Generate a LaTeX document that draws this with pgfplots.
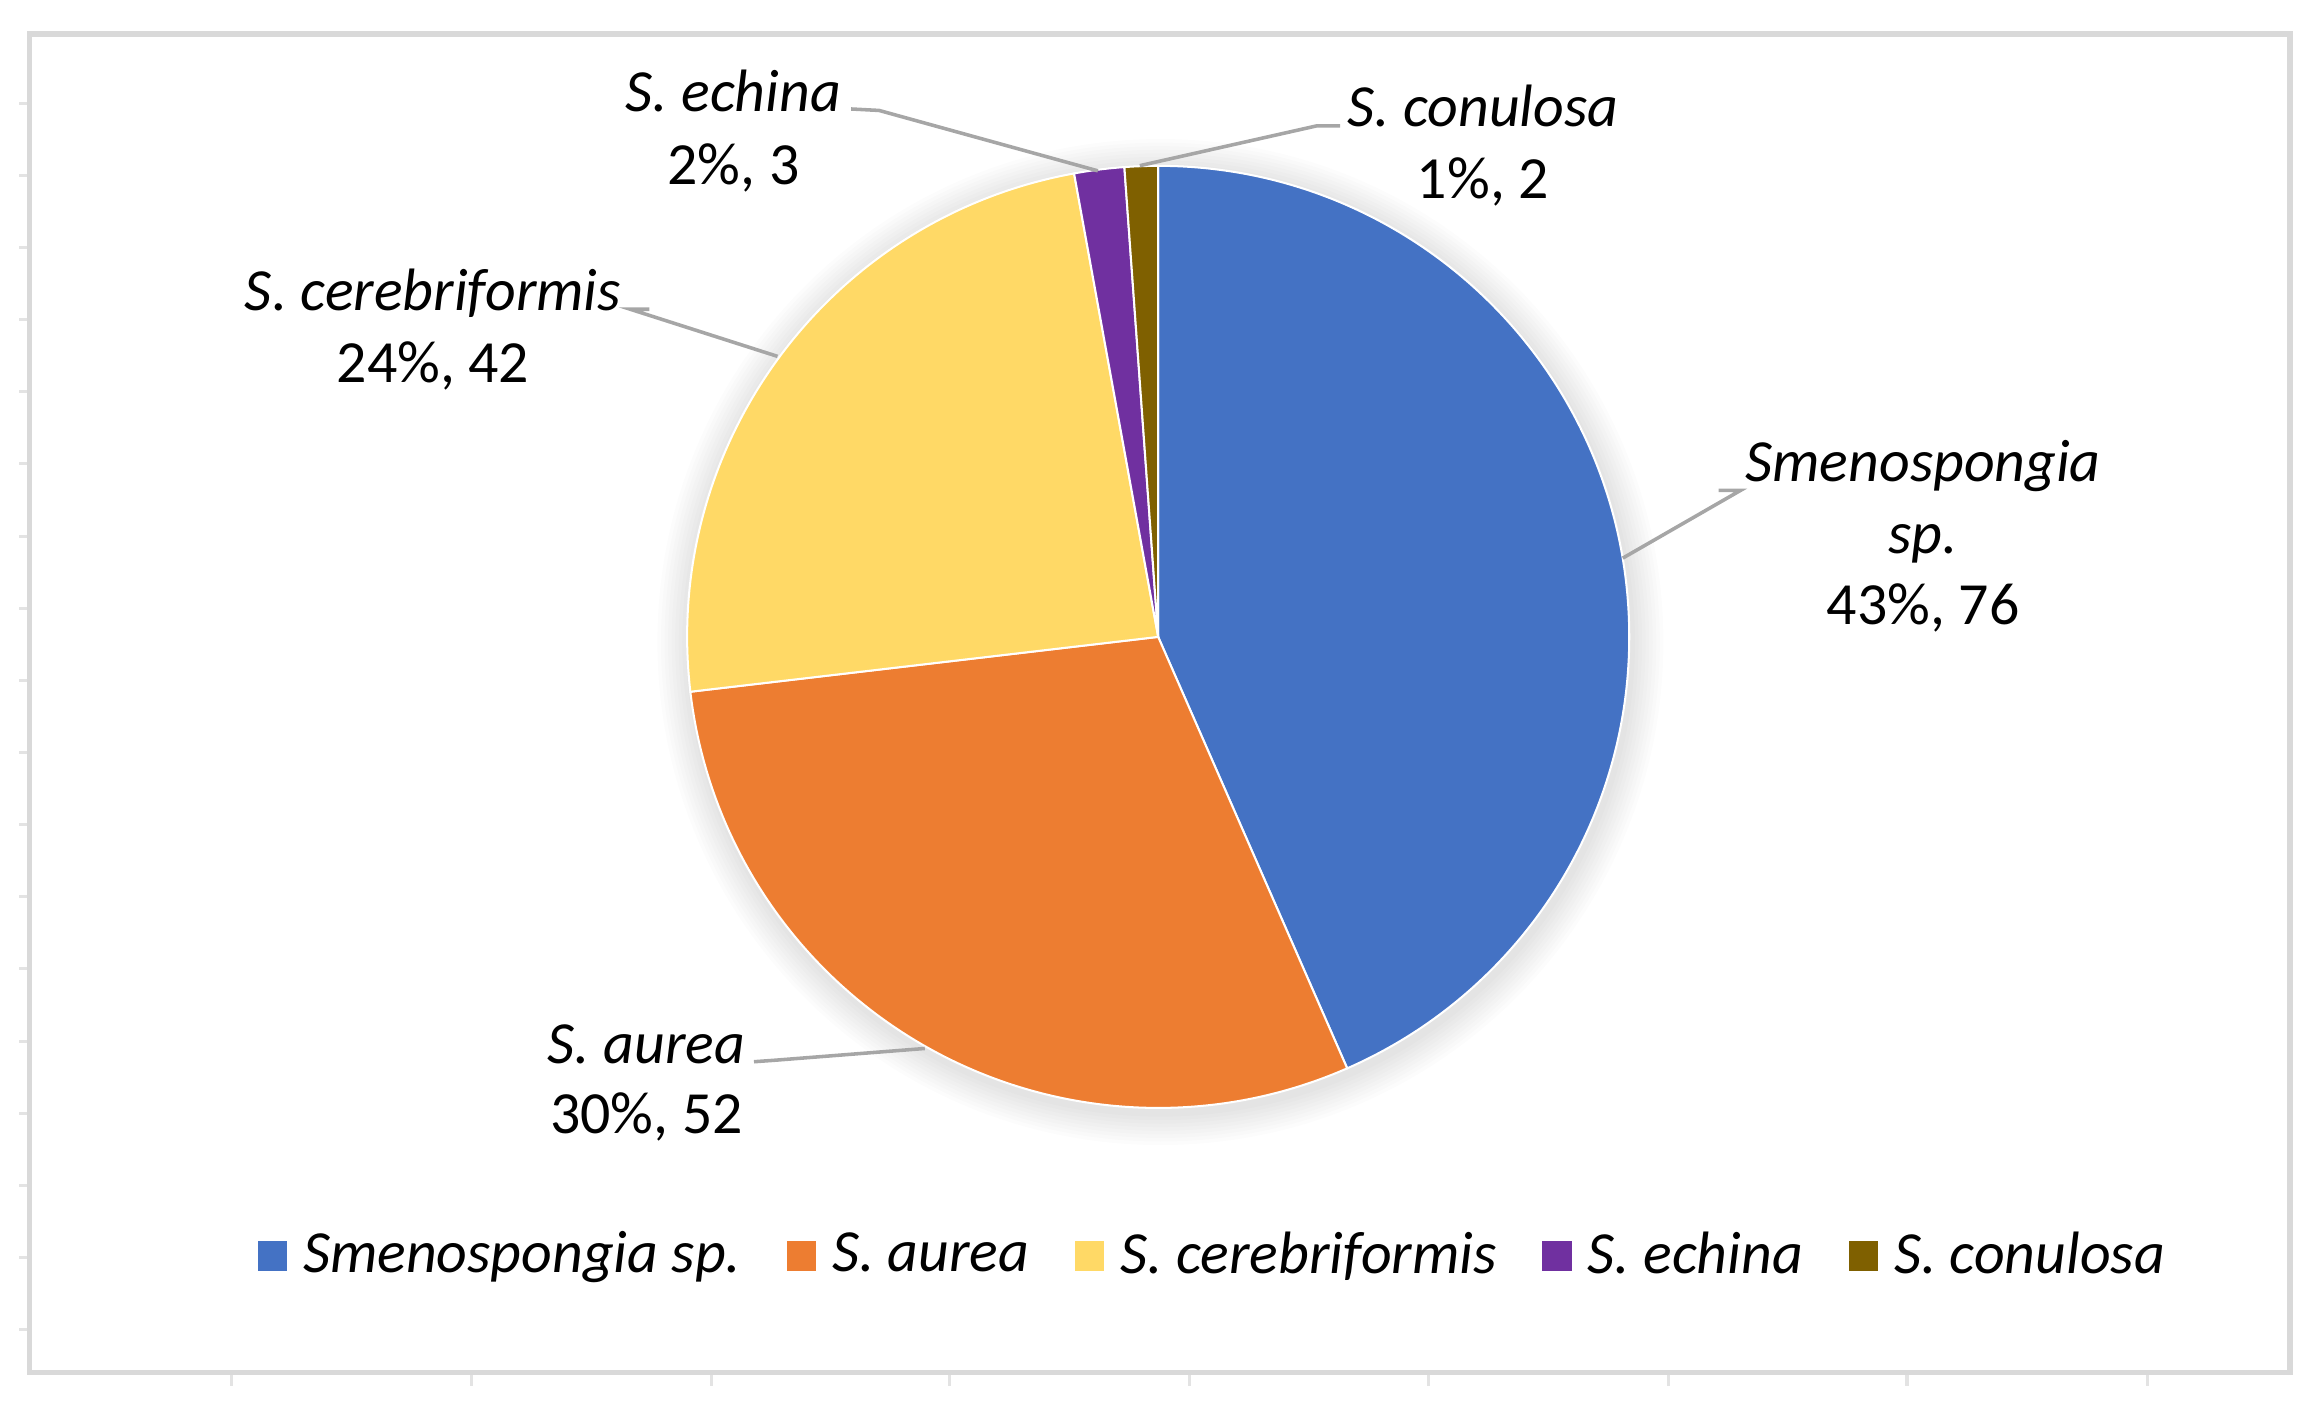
\documentclass[border=0pt]{standalone}
\usepackage{pgfplots}
\pgfplotsset{compat=1.18}
\usepackage{pgfplotstable}
\usepackage{fontspec}
\setmainfont{Carlito}

\definecolor{cSme}{HTML}{4472C4}
\definecolor{cAur}{HTML}{ED7D31}
\definecolor{cCer}{HTML}{FFD966}
\definecolor{cEch}{HTML}{7030A0}
\definecolor{cCon}{HTML}{7F6000}
\definecolor{framegray}{HTML}{D9D9D9}
\definecolor{leader}{HTML}{A6A6A6}

% counts per species, in chart order (clockwise from 12 o'clock)
\pgfplotstableread{
slice count
0 76
1 52
2 42
3 3
4 2
}\pietable

\def\R{3.26531cm}% pie radius (320 px at 0.0102041cm/px)
\newcommand\lab[3]{\node[anchor=base, inner sep=0pt] at (axis cs:#1,#2) {#3};}

\begin{document}
\begin{tikzpicture}[font=\fontsize{11.8}{14}\selectfont]
% total and slice angles
\pgfmathsetmacro\total{0}
\pgfplotsforeachungrouped \i in {0,...,4}{%
  \pgfplotstablegetelem{\i}{count}\of\pietable
  \pgfmathsetmacro\total{\total+\pgfplotsretval}}
\def\cur{90}
\pgfplotsforeachungrouped \i in {0,...,4}{%
  \pgfplotstablegetelem{\i}{count}\of\pietable
  \pgfmathsetmacro\nxt{\cur-360/\total*\pgfplotsretval}%
  \expandafter\xdef\csname angS\i\endcsname{\cur}%
  \expandafter\xdef\csname angE\i\endcsname{\nxt}%
  \global\let\cur\nxt}

\begin{axis}[
  x=0.0102041cm, y=0.0102041cm,
  xmin=0, xmax=1568, ymin=0, ymax=958, y dir=reverse,
  hide axis, clip=false,
  legend columns=5,
  legend image code/.code={\fill[#1, draw=none] (0pt,-2.9pt) rectangle (5.8pt,2.9pt);},
  legend style={draw=none, fill=none, at={(axis cs:826,853)}, anchor=center,
    font=\fontsize{11.8}{14}\selectfont\itshape,
    /tikz/every even column/.append style={column sep=7pt},
    /tikz/every odd column/.append style={column sep=1.2pt}},
]
\pgfplotsextra{%
  \path (axis cs:0,0) rectangle (axis cs:1568,958);
  % faint worksheet ticks outside the frame
  \foreach \yy in {70,119,168,217,266,315,364,413,462,511,560,609,658,707,756,805,854,903}
    \draw[gray!22, line width=0.6pt] (axis cs:13,\yy) -- (axis cs:20,\yy);
  \foreach \xx in {157,320,483,645,808,970,1133,1295,1458}
    \draw[gray!22, line width=0.6pt] (axis cs:\xx,932) -- (axis cs:\xx,941);
  \draw[framegray, line width=1.1pt] (axis cs:20,23) rectangle (axis cs:1555,932);
  % soft shadow
  \foreach \k in {1,...,9}
    \fill[black, opacity=0.012] (axis cs:788,436) circle[radius=\R+\k*0.7pt];
  % slices
  \foreach \i/\c in {0/cSme,1/cAur,2/cCer,3/cEch,4/cCon}{%
    \edef\a{\csname angS\i\endcsname}\edef\b{\csname angE\i\endcsname}%
    \fill[\c, draw=white, line width=0.4pt] (axis cs:786.5,432.5) -- ++(\a:\R)
      arc[start angle=\a, end angle=\b, radius=\R] -- cycle;}
  % leader lines
  \draw[leader, line width=0.7pt] (axis cs:1167,333) -- (axis cs:1182,333) -- (axis cs:1102,379);
  \draw[leader, line width=0.7pt] (axis cs:441,210) -- (axis cs:428,210) -- (axis cs:528,242);
  \draw[leader, line width=0.7pt] (axis cs:512,721) -- (axis cs:526,720) -- (axis cs:628,712);
  \draw[leader, line width=0.7pt] (axis cs:578,74) -- (axis cs:597,75) -- (axis cs:745.5,116);
  \draw[leader, line width=0.7pt] (axis cs:910,85.5) -- (axis cs:894,85.5) -- (axis cs:774,112.5);
}
% data labels
\lab{1306}{327}{\textit{Smenospongia}}
\lab{1306}{376}{\textit{sp.}}
\lab{1306}{424}{43\%, 76}
\lab{294}{211}{\textit{S. cerebriformis}}
\lab{294}{260}{24\%, 42}
\lab{498}{76}{\textit{S. echina}}
\lab{498}{125}{2\%, 3}
\lab{1007}{86}{\textit{S. conulosa}}
\lab{1007}{135}{1\%, 2}
\lab{439}{722}{\textit{S. aurea}}
\lab{439}{770}{30\%, 52}
% legend
\addlegendimage{fill=cSme}\addlegendentry{Smenospongia sp.}
\addlegendimage{fill=cAur}\addlegendentry{S. aurea}
\addlegendimage{fill=cCer}\addlegendentry{S. cerebriformis}
\addlegendimage{fill=cEch}\addlegendentry{S. echina}
\addlegendimage{fill=cCon}\addlegendentry{S. conulosa}
\end{axis}
\end{tikzpicture}
\end{document}
